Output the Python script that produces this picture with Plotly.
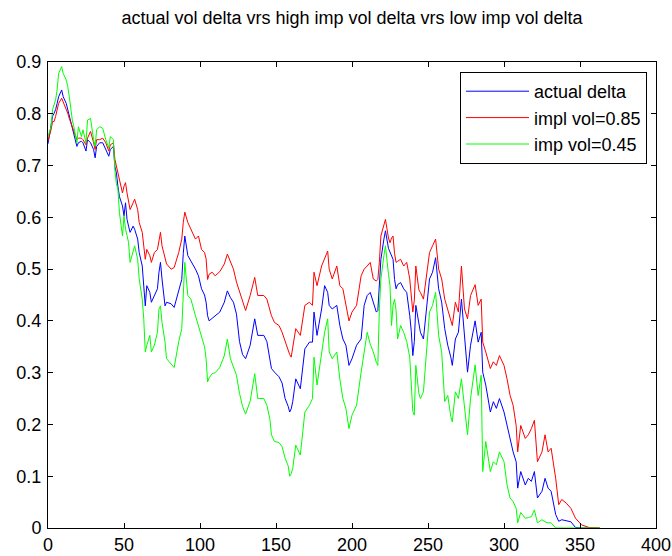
import plotly.graph_objects as go

# Trading days at which each delta series is sampled
days = [
    0, 2, 3, 4, 5, 6, 7, 9, 10, 12,
    13, 14, 15, 16, 17, 18, 19, 20, 22, 23,
    25, 26, 28, 30, 31, 32, 34, 36, 38, 40,
    41, 43, 44, 45, 46, 47, 49, 50, 51, 52,
    53, 54, 56, 57, 59, 60, 62, 63, 64, 65,
    67, 68, 70, 72, 73, 74, 75, 77, 78, 81,
    83, 86, 88, 89, 90, 92, 94, 97, 99, 101,
    103, 104, 105, 106, 108, 110, 113, 116, 118, 120,
    122, 124, 126, 128, 130, 133, 136, 138, 142, 144,
    146, 147, 149, 152, 154, 156, 158, 159, 160, 161,
    163, 166, 169, 172, 174, 175, 177, 180, 182, 184,
    185, 187, 190, 192, 194, 196, 198, 200, 203, 206,
    208, 210, 212, 214, 216, 217, 218, 219, 221, 222,
    224, 225, 226, 227, 228, 229, 230, 232, 234, 236,
    238, 239, 240, 241, 242, 244, 245, 247, 249, 251,
    253, 255, 257, 259, 261, 263, 265, 266, 268, 270,
    272, 274, 276, 278, 281, 283, 285, 286, 288, 291,
    293, 295, 297, 300, 302, 304, 306, 308, 309, 311,
    314, 316, 318, 320, 322, 325, 327, 329, 331, 334,
    336, 338, 341, 344, 347, 349, 351, 356, 363,
]

# Delta computed with the realised (actual) volatility
actual_delta = [
    0.742, 0.775, 0.795, 0.801, 0.808, 0.820, 0.833, 0.846, 0.833, 0.820,
    0.808, 0.795, 0.782, 0.775, 0.763, 0.750, 0.737, 0.744, 0.747, 0.744,
    0.728, 0.750, 0.744, 0.731, 0.715, 0.737, 0.744, 0.744, 0.731, 0.718,
    0.731, 0.737, 0.698, 0.686, 0.660, 0.640, 0.622, 0.603, 0.628, 0.596,
    0.583, 0.571, 0.583, 0.577, 0.558, 0.532, 0.506, 0.474, 0.429, 0.468,
    0.455, 0.436, 0.449, 0.462, 0.494, 0.513, 0.481, 0.429, 0.436, 0.433,
    0.426, 0.462, 0.480, 0.530, 0.564, 0.526, 0.516, 0.500, 0.487, 0.462,
    0.450, 0.436, 0.410, 0.400, 0.405, 0.410, 0.417, 0.436, 0.458, 0.445,
    0.436, 0.413, 0.360, 0.335, 0.327, 0.353, 0.404, 0.372, 0.372, 0.360,
    0.330, 0.308, 0.301, 0.292, 0.280, 0.250, 0.235, 0.224, 0.230, 0.244,
    0.288, 0.269, 0.346, 0.359, 0.359, 0.417, 0.372, 0.423, 0.468, 0.455,
    0.430, 0.423, 0.430, 0.391, 0.365, 0.353, 0.314, 0.327, 0.353, 0.365,
    0.430, 0.449, 0.455, 0.436, 0.417, 0.420, 0.468, 0.519, 0.558, 0.574,
    0.540, 0.532, 0.525, 0.519, 0.480, 0.462, 0.470, 0.474, 0.462, 0.455,
    0.410, 0.380, 0.333, 0.360, 0.430, 0.390, 0.378, 0.365, 0.417, 0.481,
    0.494, 0.522, 0.462, 0.436, 0.385, 0.353, 0.330, 0.314, 0.365, 0.378,
    0.442, 0.378, 0.301, 0.353, 0.400, 0.359, 0.378, 0.301, 0.276, 0.224,
    0.244, 0.231, 0.250, 0.224, 0.198, 0.167, 0.147, 0.128, 0.077, 0.109,
    0.083, 0.096, 0.090, 0.109, 0.058, 0.071, 0.096, 0.077, 0.071, 0.026,
    0.013, 0.016, 0.014, 0.012, 0.001, 0.000, 0.000, 0.000, 0.000,
]

# Delta computed with the high implied volatility (0.85)
high_iv_delta = [
    0.748, 0.769, 0.785, 0.785, 0.795, 0.808, 0.820, 0.830, 0.823, 0.811,
    0.801, 0.791, 0.782, 0.775, 0.766, 0.756, 0.750, 0.753, 0.753, 0.750,
    0.740, 0.753, 0.766, 0.744, 0.731, 0.750, 0.750, 0.753, 0.744, 0.728,
    0.740, 0.744, 0.712, 0.699, 0.686, 0.667, 0.647, 0.660, 0.667, 0.647,
    0.628, 0.615, 0.628, 0.635, 0.615, 0.590, 0.571, 0.545, 0.519, 0.538,
    0.526, 0.513, 0.532, 0.538, 0.558, 0.571, 0.545, 0.519, 0.510, 0.500,
    0.503, 0.532, 0.558, 0.590, 0.610, 0.590, 0.577, 0.558, 0.564, 0.538,
    0.532, 0.520, 0.480, 0.490, 0.494, 0.487, 0.495, 0.510, 0.529, 0.515,
    0.500, 0.475, 0.455, 0.436, 0.420, 0.449, 0.484, 0.449, 0.449, 0.442,
    0.423, 0.410, 0.397, 0.391, 0.378, 0.360, 0.340, 0.335, 0.330, 0.350,
    0.385, 0.372, 0.430, 0.436, 0.430, 0.494, 0.468, 0.506, 0.519, 0.535,
    0.500, 0.481, 0.506, 0.468, 0.462, 0.430, 0.400, 0.417, 0.430, 0.487,
    0.500, 0.506, 0.513, 0.481, 0.477, 0.480, 0.513, 0.564, 0.583, 0.596,
    0.560, 0.551, 0.560, 0.564, 0.530, 0.513, 0.515, 0.519, 0.506, 0.513,
    0.481, 0.450, 0.417, 0.440, 0.506, 0.460, 0.455, 0.442, 0.487, 0.532,
    0.545, 0.558, 0.500, 0.481, 0.442, 0.423, 0.400, 0.391, 0.436, 0.417,
    0.506, 0.423, 0.404, 0.449, 0.470, 0.430, 0.442, 0.359, 0.340, 0.308,
    0.321, 0.314, 0.333, 0.314, 0.288, 0.256, 0.237, 0.198, 0.147, 0.198,
    0.173, 0.180, 0.192, 0.208, 0.128, 0.147, 0.180, 0.147, 0.154, 0.096,
    0.045, 0.055, 0.048, 0.038, 0.019, 0.013, 0.006, 0.001, 0.000,
]

# Delta computed with the low implied volatility (0.45)
low_iv_delta = [
    0.756, 0.775, 0.808, 0.820, 0.827, 0.846, 0.878, 0.891, 0.878, 0.865,
    0.853, 0.833, 0.808, 0.788, 0.775, 0.756, 0.744, 0.775, 0.756, 0.769,
    0.744, 0.788, 0.791, 0.750, 0.737, 0.769, 0.775, 0.772, 0.750, 0.734,
    0.756, 0.750, 0.690, 0.665, 0.654, 0.609, 0.564, 0.603, 0.577, 0.565,
    0.551, 0.513, 0.538, 0.545, 0.519, 0.481, 0.442, 0.404, 0.340, 0.353,
    0.372, 0.340, 0.353, 0.378, 0.423, 0.429, 0.397, 0.359, 0.327, 0.317,
    0.310, 0.360, 0.385, 0.450, 0.513, 0.449, 0.442, 0.410, 0.391, 0.372,
    0.350, 0.327, 0.282, 0.290, 0.298, 0.300, 0.310, 0.333, 0.365, 0.327,
    0.310, 0.295, 0.260, 0.235, 0.220, 0.245, 0.298, 0.250, 0.250, 0.237,
    0.210, 0.180, 0.167, 0.165, 0.157, 0.135, 0.120, 0.100, 0.105, 0.115,
    0.160, 0.141, 0.224, 0.237, 0.250, 0.330, 0.276, 0.333, 0.378, 0.404,
    0.340, 0.327, 0.340, 0.288, 0.250, 0.231, 0.192, 0.218, 0.237, 0.301,
    0.340, 0.378, 0.355, 0.340, 0.320, 0.314, 0.423, 0.481, 0.526, 0.545,
    0.490, 0.468, 0.391, 0.430, 0.442, 0.420, 0.365, 0.391, 0.378, 0.360,
    0.330, 0.276, 0.225, 0.218, 0.314, 0.260, 0.250, 0.263, 0.333, 0.417,
    0.430, 0.455, 0.372, 0.340, 0.244, 0.256, 0.215, 0.205, 0.263, 0.250,
    0.288, 0.237, 0.180, 0.250, 0.315, 0.256, 0.295, 0.109, 0.167, 0.109,
    0.128, 0.122, 0.147, 0.128, 0.083, 0.058, 0.051, 0.038, 0.010, 0.030,
    0.019, 0.020, 0.022, 0.035, 0.010, 0.016, 0.012, 0.010, 0.010, 0.000,
    0.000, 0.000, 0.000, 0.000, 0.000, 0.000, 0.000, 0.000, 0.000,
]

series_names = ["actual delta", "impl vol=0.85", "imp vol=0.45"]
series_colors = ["#0000ff", "#ff0000", "#00ff00"]

x_ticks = [0, 50, 100, 150, 200, 250, 300, 350, 400]
y_ticks = [0, 0.1, 0.2, 0.3, 0.4, 0.5, 0.6, 0.7, 0.8, 0.9]

assert len(days) == len(actual_delta) == len(high_iv_delta) == len(low_iv_delta)

FONT = "Liberation Sans, Arial, Helvetica, sans-serif"
FONT_SIZE = 18

fig = go.Figure()
for name, values, color in zip(series_names,
                               [actual_delta, high_iv_delta, low_iv_delta],
                               series_colors):
    fig.add_trace(go.Scatter(
        x=days, y=values, mode="lines", name=name,
        line=dict(color=color, width=1),
    ))

axis_common = dict(
    showgrid=False, zeroline=False, automargin=False,
    showline=True, linecolor="black", linewidth=1,
    mirror="ticks", ticks="inside", ticklen=5, tickwidth=1, tickcolor="black",
    tickfont=dict(family=FONT, size=FONT_SIZE, color="black"),
)

fig.update_layout(
    width=672, height=556,
    margin=dict(l=48, r=16, t=62, b=28),
    paper_bgcolor="white", plot_bgcolor="white",
    title=dict(
        text="actual vol delta vrs high imp vol delta vrs low imp vol delta",
        x=0.5, xref="paper", xanchor="center",
        y=1 - 18 / 556, yref="container", yanchor="middle",
        font=dict(family=FONT, size=FONT_SIZE, color="black"),
        automargin=False,
    ),
    xaxis=dict(range=[0, 400], tickvals=x_ticks, ticklabelstandoff=0,
               **axis_common),
    yaxis=dict(range=[0, 0.9], tickvals=y_ticks, ticklabelstandoff=2,
               **axis_common),
    legend=dict(
        x=(460 - 48) / 608, y=(528 - 72) / 466,
        xanchor="left", yanchor="top",
        bordercolor="black", borderwidth=1, bgcolor="white",
        font=dict(family=FONT, size=FONT_SIZE, color="black"),
        itemwidth=63,
    ),
    showlegend=True,
)

fig.write_html("out.html")
